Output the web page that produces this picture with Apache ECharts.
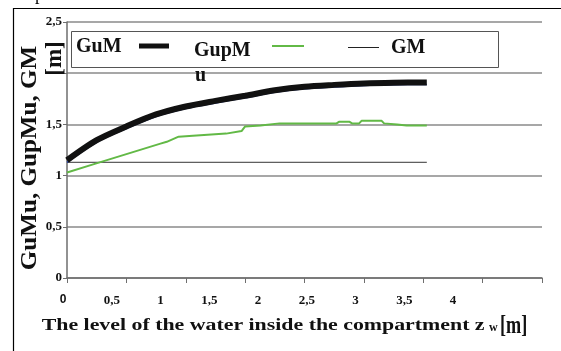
<!DOCTYPE html>
<html>
<head>
<meta charset="utf-8">
<script src="https://cdn.jsdelivr.net/npm/echarts@6/dist/echarts.min.js"></script>
<style>
html,body{margin:0;padding:0;background:#fff;}
#chart{width:561px;height:351px;}
</style>
</head>
<body>
<div id="chart"></div>
<script>
// ---- data ----
var xTickLabels = [0, 0.5, 1, 1.5, 2, 2.5, 3, 3.5, 4];
var yTickValues = [0, 0.5, 1, 1.5, 2, 2.5];

var zwGuM = [0, 0.25, 0.5, 0.75, 1.0, 1.25, 1.5, 1.75, 2.0, 2.25, 2.5, 2.75, 3.03];
var GuM   = [1.15, 1.346, 1.48, 1.597, 1.675, 1.73, 1.78, 1.833, 1.868, 1.886, 1.90, 1.907, 1.91];
var GuMu  = [1.13, 1.325, 1.46, 1.577, 1.655, 1.71, 1.76, 1.813, 1.848, 1.866, 1.88, 1.887, 1.89];

var zwGupM = [0, 0.22, 0.50, 0.78, 0.84, 0.94, 1.06, 1.34, 1.47, 1.50, 1.63, 1.79, 2.27, 2.29, 2.38, 2.40, 2.46, 2.48, 2.65, 2.67, 2.78, 2.86, 3.03];
var GupM   = [1.03, 1.11, 1.21, 1.31, 1.33, 1.38, 1.39, 1.41, 1.435, 1.48, 1.49, 1.51, 1.51, 1.525, 1.525, 1.51, 1.51, 1.535, 1.535, 1.51, 1.50, 1.49, 1.49];

var zwGM = [0, 3.03];
var GM   = [1.13, 1.13];

function pairs(xs, ys) { return xs.map(function (x, i) { return [x, ys[i]]; }); }

var SERIF = '"Liberation Serif", "Times New Roman", serif';
var SANS = '"Liberation Sans", Arial, sans-serif';
var gridColor = '#8a8a8a';

var chart = echarts.init(document.getElementById('chart'), null, {renderer: 'canvas'});
chart.setOption({
  backgroundColor: '#fff',
  animation: false,
  grid: [
    {left: 67, top: 22, width: 475, height: 256, containLabel: false},
    {left: 63, top: 22, width: 390, height: 256, containLabel: false}
  ],
  xAxis: [
    {
      type: 'value', gridIndex: 0, min: 0, max: 4, interval: 0.5,
      axisLine: {show: true, lineStyle: {color: '#6e6e6e', width: 1.5}},
      axisTick: {show: true, inside: false, length: 5, lineStyle: {color: '#6e6e6e'}},
      axisLabel: {show: false},
      splitLine: {show: false}
    },
    {
      type: 'value', gridIndex: 1, min: 0, max: 4, interval: 0.5,
      axisLine: {show: false}, axisTick: {show: false}, splitLine: {show: false},
      axisLabel: {
        show: true, margin: 16, color: '#111',
        fontFamily: SERIF, fontWeight: 'bold', fontSize: 13,
        formatter: function (v) {
          if (v === 0) return '{s|0}';
          return String(v).replace('.', ',');
        },
        rich: {s: {fontFamily: SANS, fontWeight: 'bold', fontSize: 12, color: '#111'}}
      }
    }
  ],
  yAxis: [
    {
      type: 'value', gridIndex: 0, min: 0, max: 2.5, interval: 0.5,
      axisLine: {show: true, lineStyle: {color: '#6e6e6e', width: 1.5}},
      axisTick: {show: true, inside: false, length: 4, lineStyle: {color: '#6e6e6e'}},
      axisLabel: {
        show: true, margin: 5, color: '#111',
        fontFamily: SERIF, fontWeight: 'bold', fontSize: 13,
        padding: [6, 0, 0, 0],
        formatter: function (v) {
          if (v === 2) return '';
          return String(v).replace('.', ',');
        }
      },
      splitLine: {show: true, lineStyle: {color: gridColor, width: 1.5}}
    },
    {
      type: 'value', gridIndex: 1, min: 0, max: 2.5, show: false
    }
  ],
  series: [
    {
      name: 'GM', type: 'line', xAxisIndex: 0, yAxisIndex: 0,
      data: pairs(zwGM, GM), showSymbol: false, symbol: 'none',
      lineStyle: {color: '#333', width: 1}, z: 3
    },
    {
      name: 'GupM', type: 'line', xAxisIndex: 0, yAxisIndex: 0,
      data: pairs(zwGupM, GupM), showSymbol: false, symbol: 'none',
      lineStyle: {color: '#62b946', width: 2}, z: 4
    },
    {
      name: 'GuMu', type: 'line', xAxisIndex: 0, yAxisIndex: 0,
      data: pairs(zwGuM, GuMu), showSymbol: false, symbol: 'none', smooth: 0.3,
      lineStyle: {color: '#2a45b0', width: 1.5}, z: 5
    },
    {
      name: 'GuM', type: 'line', xAxisIndex: 0, yAxisIndex: 0,
      data: pairs(zwGuM, GuM), showSymbol: false, symbol: 'none', smooth: 0.3,
      lineStyle: {color: '#111', width: 6}, z: 6
    }
  ],
  graphic: [
    {type: 'rect', silent: true, shape: {x: 13.5, y: 8.5, width: 600, height: 400},
     style: {fill: 'none', stroke: '#000', lineWidth: 1.2}, z: 100},
    {type: 'text', x: 35, y: -14, style: {text: 'p', font: '18px ' + SERIF, fill: '#000', textVerticalAlign: 'top'}},
    // legend box
    {type: 'rect', shape: {x: 71.5, y: 31.5, width: 427, height: 36},
     style: {fill: '#fff', stroke: '#555', lineWidth: 1}, z: 50},
    {type: 'text', x: 76, y: 47, z: 51, style: {text: 'GuM', font: 'bold 20px ' + SERIF, fill: '#111', textVerticalAlign: 'middle'}},
    {type: 'line', z: 51, shape: {x1: 139, y1: 46, x2: 169, y2: 46}, style: {stroke: '#111', lineWidth: 5}},
    {type: 'text', x: 194, y: 50.5, z: 51, style: {text: 'GupM', font: 'bold 20px ' + SERIF, fill: '#111', textVerticalAlign: 'middle'}},
    {type: 'text', x: 195, y: 76, z: 51, style: {text: 'u', font: 'bold 20px ' + SERIF, fill: '#111', textVerticalAlign: 'middle'}},
    {type: 'line', z: 51, shape: {x1: 272, y1: 46, x2: 304, y2: 46}, style: {stroke: '#62b946', lineWidth: 2}},
    {type: 'line', z: 51, shape: {x1: 348, y1: 47.5, x2: 379, y2: 47.5}, style: {stroke: '#222', lineWidth: 1}},
    {type: 'text', x: 391, y: 48, z: 51, style: {text: 'GM', font: 'bold 20px ' + SERIF, fill: '#111', textVerticalAlign: 'middle'}},
    // y title
    {type: 'text', x: 30, y: 158, rotation: Math.PI / 2, scaleX: 1.09, z: 40,
     style: {text: 'GuMu, GupMu, GM', font: 'bold 23px ' + SERIF, fill: '#111', textAlign: 'center', textVerticalAlign: 'middle'}},
    {type: 'text', x: 55.5, y: 58.5, rotation: Math.PI / 2, z: 40,
     style: {text: '[m]', font: 'bold 23px ' + SERIF, fill: '#111', textAlign: 'center', textVerticalAlign: 'middle'}},
    // x title
    {type: 'text', x: 41.7, y: 334, scaleX: 1.285, z: 40,
     style: {text: 'The level of the water inside the compartment z', font: 'bold 17px ' + SERIF, fill: '#111', textAlign: 'left', textVerticalAlign: 'bottom'}},
    {type: 'text', x: 489, y: 334, z: 40,
     style: {text: 'w', font: 'bold 12px ' + SERIF, fill: '#111', textAlign: 'left', textVerticalAlign: 'bottom'}},
    {type: 'text', x: 500, y: 339, scaleX: 0.7, z: 40,
     style: {text: '[m]', font: 'bold 26px ' + SERIF, fill: '#111', textAlign: 'left', textVerticalAlign: 'bottom'}}
  ]
});
</script>
</body>
</html>
